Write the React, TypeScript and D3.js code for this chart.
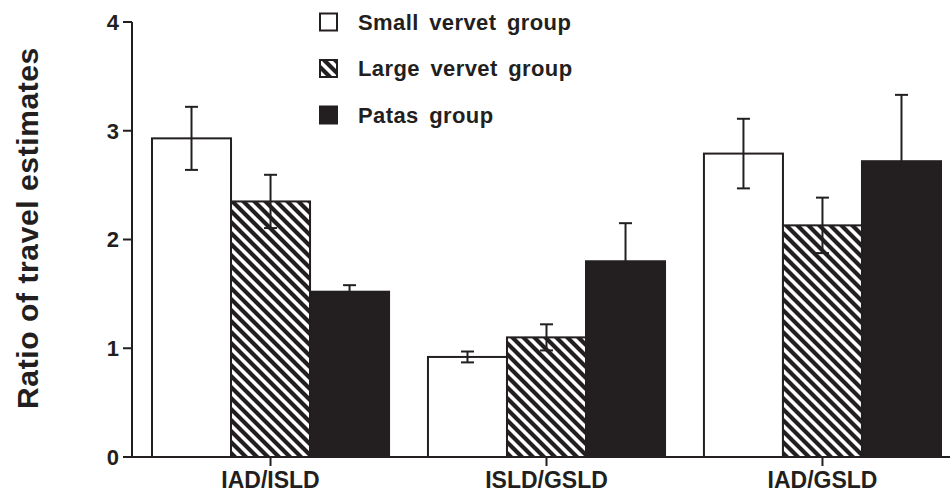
import React from "react";
import * as d3 from "d3";

const categories = ["IAD/ISLD", "ISLD/GSLD", "IAD/GSLD"];
const seriesNames = ["Small vervet group", "Large vervet group", "Patas group"];
const smallVervet = [2.93, 0.92, 2.79];
const smallVervetErr = [0.29, 0.05, 0.32];
const largeVervet = [2.35, 1.1, 2.13];
const largeVervetErr = [0.245, 0.12, 0.255];
const patas = [1.52, 1.8, 2.72];
const patasErr = [0.06, 0.35, 0.61];
const yTicks = [0, 1, 2, 3, 4];

const W = 950;
const H = 492;
const INK = "#231f20";
const FONT = "'Liberation Sans', Arial, Helvetica, sans-serif";

export default function App() {
  const values = [smallVervet, largeVervet, patas];
  const errors = [smallVervetErr, largeVervetErr, patasErr];
  const fills = ["#ffffff", "url(#hatch)", INK];

  const y = d3.scaleLinear().domain([0, 4]).range([457, 22]);
  const x0 = d3.scaleBand().domain(categories).range([152, 941]).paddingInner(0.141).paddingOuter(0);
  const x1 = d3.scaleBand().domain(seriesNames).range([0, x0.bandwidth()]).padding(0);
  const axisX = 132;
  const capW = 13;

  return (
    <svg width={W} height={H} style={{ position: "absolute", left: 0, top: 0, background: "#fff" }}>
      <defs>
        <pattern id="hatch" patternUnits="userSpaceOnUse" width={11} height={11}>
          <rect width={11} height={11} fill="#fff" />
          <path d="M0,0 L11,11 M-3,8 L3,14 M8,-3 L14,3" stroke={INK} strokeWidth={4.2} />
        </pattern>
      </defs>
      <rect width={W} height={H} fill="#fff" />

      {/* bars */}
      {categories.map((c, ci) => (
        <g key={c} transform={`translate(${x0(c)},0)`}>
          {seriesNames.map((s, si) => {
            const v = values[si][ci];
            const bx = x1(s)!;
            return (
              <rect
                key={s}
                x={bx}
                y={y(v)}
                width={x1.bandwidth()}
                height={y(0) - y(v)}
                fill={fills[si]}
                stroke={INK}
                strokeWidth={2}
              />
            );
          })}
          {seriesNames.map((s, si) => {
            const v = values[si][ci];
            const e = errors[si][ci];
            const cx = x1(s)! + x1.bandwidth() / 2;
            return (
              <g key={s + "err"} stroke={INK} strokeWidth={2}>
                <line x1={cx} x2={cx} y1={y(v + e)} y2={y(v - e)} />
                <line x1={cx - capW / 2} x2={cx + capW / 2} y1={y(v + e)} y2={y(v + e)} />
                <line x1={cx - capW / 2} x2={cx + capW / 2} y1={y(v - e)} y2={y(v - e)} />
              </g>
            );
          })}
        </g>
      ))}

      {/* axes */}
      <line x1={axisX} x2={axisX} y1={y(4)} y2={y(0)} stroke={INK} strokeWidth={2} />
      <line x1={axisX} x2={W} y1={y(0)} y2={y(0)} stroke={INK} strokeWidth={2} />
      {yTicks.map((t) => (
        <g key={t}>
          <line x1={axisX - 9} x2={axisX} y1={y(t)} y2={y(t)} stroke={INK} strokeWidth={2} />
          <text
            x={axisX - 13}
            y={y(t)}
            dy="0.36em"
            textAnchor="end"
            fontFamily={FONT}
            fontWeight="bold"
            fontSize={22}
            fill={INK}
          >
            {t}
          </text>
        </g>
      ))}
      {categories.map((c) => {
        const cx = x0(c)! + x0.bandwidth() / 2;
        return (
          <g key={c}>
            <line x1={cx} x2={cx} y1={y(0)} y2={y(0) + 9} stroke={INK} strokeWidth={2} />
            <text
              x={cx}
              y={488}
              textAnchor="middle"
              fontFamily={FONT}
              fontWeight="bold"
              fontSize={23}
              fill={INK}
            >
              {c}
            </text>
          </g>
        );
      })}

      <text
        transform={`translate(38,228) rotate(-90)`}
        textAnchor="middle"
        fontFamily={FONT}
        fontWeight="bold"
        fontSize={30}
        letterSpacing={0.6}
        fill={INK}
      >
        Ratio of travel estimates
      </text>

      {/* legend */}
      {seriesNames.map((s, si) => {
        const cy = 22 + si * 46.5;
        return (
          <g key={s}>
            <rect x={320} y={cy - 8.5} width={17} height={17} fill={fills[si]} stroke={INK} strokeWidth={2} />
            <text
              x={358}
              y={cy}
              dy="0.36em"
              fontFamily={FONT}
              fontWeight="bold"
              fontSize={22}
              letterSpacing={0.4}
              wordSpacing={4}
              fill={INK}
            >
              {s}
            </text>
          </g>
        );
      })}
    </svg>
  );
}
